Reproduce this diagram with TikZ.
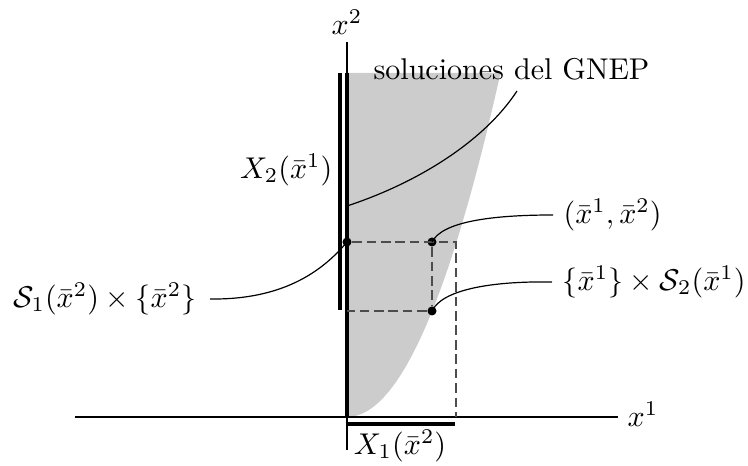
\documentclass[tikz,border=0pt]{standalone}
\usepackage{amsmath}
\begin{document}
\begin{tikzpicture}[x=0.333pt,y=-0.333pt,
  thinl/.style={line width=0.4pt},
  thickl/.style={line width=1.1pt},
  dsh/.style={dash pattern=on 3.2pt off 1.6pt, draw=black!70, line width=0.4pt},
  dotn/.style={circle, fill=black, inner sep=0pt, minimum size=3pt},
  conn/.style={line width=0.4pt}]
\useasboundingbox (0,0) rectangle (748,466);
% gray region
\fill[black!20] (347,417) .. controls (398.2,417) and (449.3,302.3) .. (500.5,73) -- (347,73) -- cycle;
% axes
\coordinate (xe) at (618,417);
\coordinate (xs) at (75,417);
\coordinate (ye) at (347,42);
\coordinate (ys) at (347,450);
\draw[thinl] (xs) -- (xe);
\draw[thinl] (ys) -- (ye);
\node (x1) at (643,414) {$x^1$};
\node (x2) at (347,22) {$x^2$};
% thick sets
\draw[thickl] (347,73) -- (347,417);
\draw[thickl] (340,73) -- (340,310);
\draw[thickl] (347,424) -- (455,424);
% dashed
\coordinate (c1) at (456,242);
\coordinate (c2) at (456,417);
\coordinate (c3) at (347,311);
\node[dotn] (p0) at (347,242) {};
\node[dotn] (p1) at (432,242) {};
\node[dotn] (p2) at (432,311) {};
\draw[dsh] (p0) -- (c1) -- (c2);
\draw[dsh] (p1) -- (p2) -- (c3);
% labels
\node[anchor=base west, inner sep=0pt] (sol) at (373,80) {soluciones del GNEP};
\node[anchor=east] (X2) at (343,170) {$X_2(\bar{x}^1)$};
\node (X1) at (400,446) {$X_1(\bar{x}^2)$};
\node[anchor=west] (pp) at (553,215) {$(\bar{x}^1,\bar{x}^2)$};
\node[anchor=west] (s2) at (552,282) {$\{\bar{x}^1\}\times\mathcal{S}_2(\bar{x}^1)$};
\node[anchor=east] (s1) at (207,299) {$\mathcal{S}_1(\bar{x}^2)\times\{\bar{x}^2\}$};
% connectors
\coordinate (a0) at (347,206);
\coordinate (a1) at (517,91);
\draw[conn] (a0) .. controls (420,182) and (485,140) .. (a1);
\draw[conn] (p1.center) .. controls (442,222) and (490,215) .. (pp.west);
\draw[conn] (p2.center) .. controls (442,290) and (490,281) .. (s2.west);
\draw[conn] ([xshift=1pt]s1.east) .. controls (282,300) and (322,272) .. (p0.center);
\end{tikzpicture}
\end{document}
